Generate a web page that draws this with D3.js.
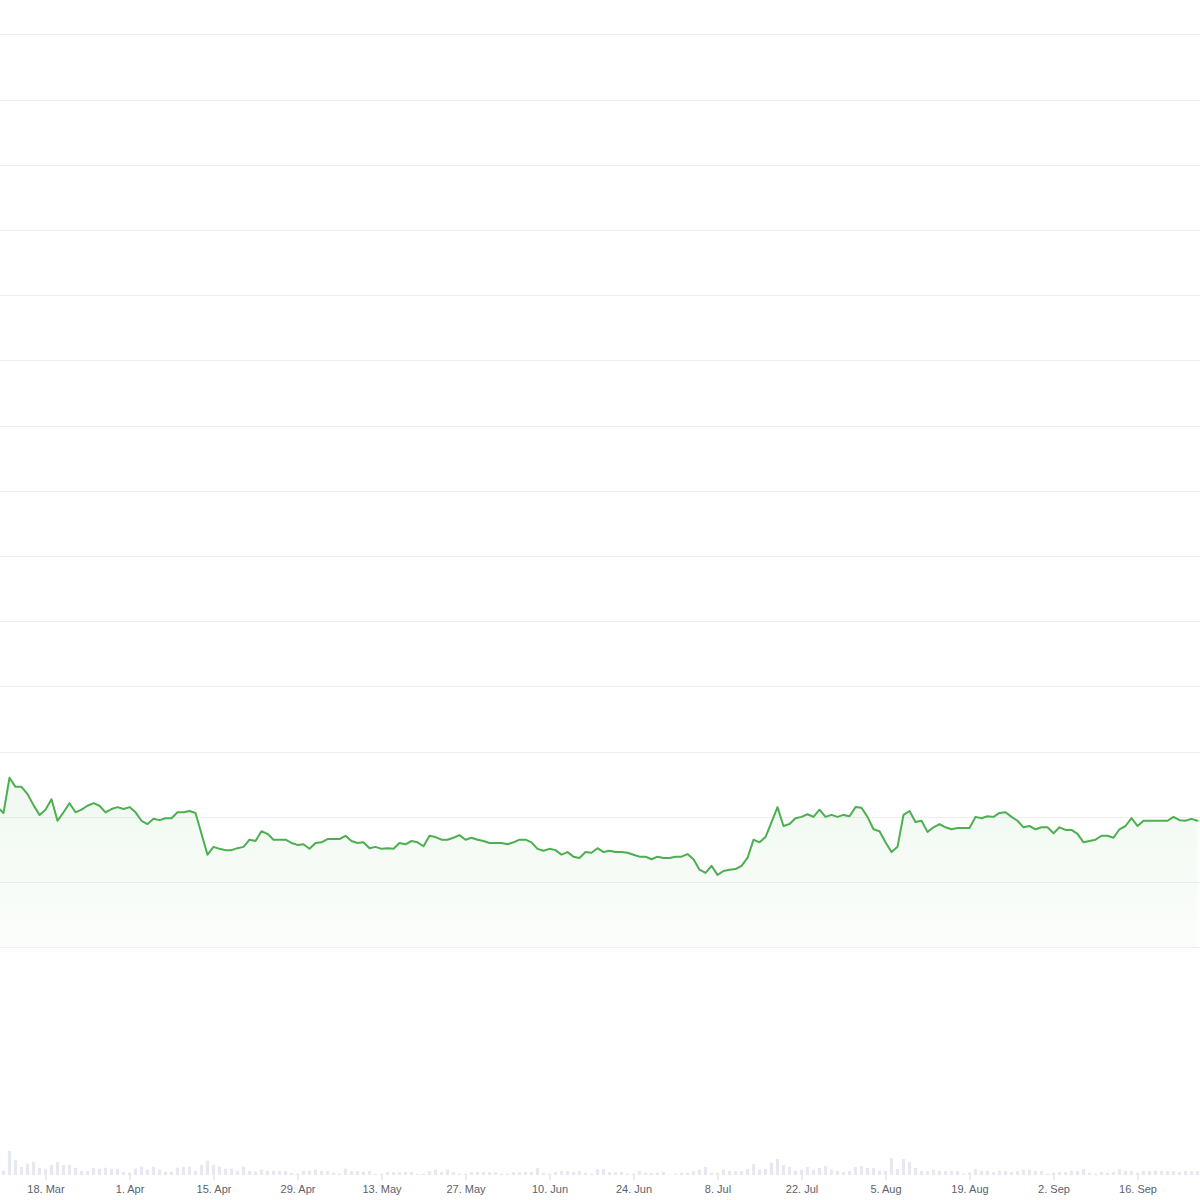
<!DOCTYPE html>
<html>
<head>
<meta charset="utf-8">
<script src="https://cdn.jsdelivr.net/npm/d3@7"></script>
<style>
  html, body { margin: 0; padding: 0; background: #ffffff; }
  svg { display: block; }
</style>
</head>
<body>
<div id="chart"></div>
<script>
// ---- data ----
const startDate = "2024-03-10";           // first daily point
const priceValues = [
  2.15,
  2.06,2.60,2.46,2.46,2.35,2.18,2.03,2.11,2.27,1.94,
  2.07,2.21,2.07,2.11,2.17,2.21,2.17,2.07,2.12,2.15,
  2.12,2.15,2.07,1.94,1.89,1.97,1.95,1.98,1.98,2.07,
  2.07,2.09,2.06,1.74,1.42,1.54,1.51,1.49,1.49,1.52,
  1.54,1.65,1.63,1.78,1.74,1.65,1.65,1.65,1.60,1.57,
  1.58,1.51,1.60,1.61,1.66,1.66,1.66,1.71,1.63,1.60,
  1.61,1.52,1.54,1.51,1.52,1.51,1.60,1.58,1.63,1.61,
  1.55,1.71,1.69,1.65,1.65,1.68,1.72,1.65,1.68,1.65,
  1.63,1.60,1.60,1.60,1.58,1.61,1.65,1.65,1.61,1.51,
  1.48,1.51,1.49,1.42,1.46,1.39,1.37,1.46,1.45,1.52,
  1.46,1.48,1.46,1.46,1.45,1.42,1.39,1.39,1.35,1.39,
  1.37,1.37,1.39,1.39,1.43,1.35,1.19,1.14,1.25,1.11,
  1.17,1.19,1.20,1.25,1.37,1.65,1.61,1.69,1.92,2.15,
  1.86,1.89,1.98,2.00,2.04,2.00,2.11,2.00,2.03,2.00,
  2.03,2.01,2.15,2.14,2.00,1.81,1.78,1.61,1.46,1.54,
  2.03,2.09,1.92,1.94,1.77,1.84,1.89,1.84,1.81,1.83,
  1.83,1.83,2.00,1.98,2.01,2.00,2.06,2.07,2.00,1.94,
  1.84,1.86,1.81,1.84,1.84,1.75,1.84,1.80,1.80,1.74,
  1.61,1.63,1.65,1.71,1.71,1.68,1.81,1.86,1.98,1.86,
  1.94,1.94,1.94,1.94,1.94,2.00,1.95,1.94,1.97,1.94
];
const volumeValues = [
  3,
  4.3,24,15,8,11.3,13,7.3,6.3,10,13,
  10,10,7,4,4,7,6.3,7.3,6.3,6.3,
  3,2.3,6.3,8.3,5.3,8.3,5.3,3.3,3.3,7.3,
  8.3,8.3,4,10,14.3,10,8.3,6.3,6.3,4.3,
  8.3,4,3.3,5.3,4.3,4.3,4.3,4,2.3,1.3,
  4.3,4.3,5.3,4,4,2.3,1.3,6.3,4,4,
  3.3,4,1.3,1.3,3,3,3,3,3,1.3,
  1.3,4,5.3,3,5.3,3,1.3,1.3,3,3,
  3,3,3,1.3,1.3,3,3,3,3,7,
  2.3,1.3,3,4.3,4,3,4,2.3,1.3,5.7,
  6,3,3,3,1.3,1.3,4,2.3,2.3,2.3,
  3,0.3,1.3,2.3,2.3,4,5.3,8,2.3,2.3,
  5.3,4,4,4,6,11,5.3,6,12.3,16,
  10,8,4.3,5.3,8,5.3,7,9,5.3,4,
  3,4,8,9,7,7,4.3,4,16.7,6,
  16,13,7,4,4,5.3,4.3,4,4.3,4,
  1.3,2.3,6,4.3,4.3,3,4.3,4,3,4,
  5.3,5.3,4,4,1.3,2.3,3,3,4.3,4,
  6,2.3,1.3,3,2.3,3,6,4.3,4,2.3,
  4.3,4,4.3,4.3,4,4,3,4,4,4
];
const tickDates = ["2024-03-18","2024-04-01","2024-04-15","2024-04-29","2024-05-13","2024-05-27",
  "2024-06-10","2024-06-24","2024-07-08","2024-07-22","2024-08-05","2024-08-19","2024-09-02","2024-09-16"];
const gridValues = [0,1,2,3,4,5,6,7,8,9,10,11,12,13,14];

// ---- setup ----
const W = 1200, H = 1200;
const parse = d3.utcParse("%Y-%m-%d");
const t0 = parse(startDate);
const rows = priceValues.map((v, i) => ({ date: d3.utcDay.offset(t0, i), price: v, vol: volumeValues[i] }));
const ticks = tickDates.map(parse);

const svg = d3.select("#chart").append("svg").attr("width", W).attr("height", H);

const x = d3.scaleUtc()
  .domain([d3.utcHour.offset(parse("2024-03-18"), -181.4), d3.utcHour.offset(parse("2024-03-18"), -181.4 + 200 * 24)])
  .range([0, W]);
const y = d3.scaleLinear().domain([0, 14]).range([947.3, 34.3]);
const yVol = d3.scaleLinear().domain([0, 24]).range([1175, 1151]);

// gridlines
svg.append("g").selectAll("line").data(gridValues).join("line")
  .attr("x1", 0).attr("x2", W)
  .attr("y1", d => Math.round(y(d)) + 0.5).attr("y2", d => Math.round(y(d)) + 0.5)
  .attr("stroke", "#efefef").attr("stroke-width", 1);

// gradient
const defs = svg.append("defs");
const grad = defs.append("linearGradient").attr("id", "areaGrad")
  .attr("gradientUnits", "userSpaceOnUse").attr("x1", 0).attr("x2", 0)
  .attr("y1", y(d3.max(priceValues))).attr("y2", y(0));
grad.append("stop").attr("offset", "0%").attr("stop-color", "#4caf50").attr("stop-opacity", 0.085);
grad.append("stop").attr("offset", "100%").attr("stop-color", "#4caf50").attr("stop-opacity", 0.02);

const area = d3.area().x(d => x(d.date)).y0(y(0)).y1(d => y(d.price));
const line = d3.line().x(d => x(d.date)).y(d => y(d.price));

svg.append("path").datum(rows).attr("d", area).attr("fill", "url(#areaGrad)");
svg.append("path").datum(rows).attr("d", line)
  .attr("fill", "none").attr("stroke", "#4caf50").attr("stroke-width", 2)
  .attr("stroke-linejoin", "round").attr("stroke-linecap", "round");

// volume bars
const bw = 3.2;
svg.append("g").selectAll("rect").data(rows).join("rect")
  .attr("x", d => x(d.date) - bw / 2)
  .attr("width", bw)
  .attr("y", d => yVol(d.vol))
  .attr("height", d => yVol(0) - yVol(d.vol))
  .attr("fill", "#e6e9f0");

// x axis
const xAxis = d3.axisBottom(x).tickValues(ticks).tickFormat(d3.utcFormat("%-d. %b"))
  .tickSize(5).tickPadding(5);
const gx = svg.append("g").attr("transform", "translate(0,1175)").call(xAxis);
gx.select(".domain").remove();
gx.selectAll(".tick line").attr("stroke", "#d6dbe4");
gx.selectAll(".tick text")
  .attr("fill", "#5c616c")
  .style("font-family", "'Liberation Sans', Arial, Helvetica, sans-serif")
  .style("font-size", "11px");
</script>
</body>
</html>
